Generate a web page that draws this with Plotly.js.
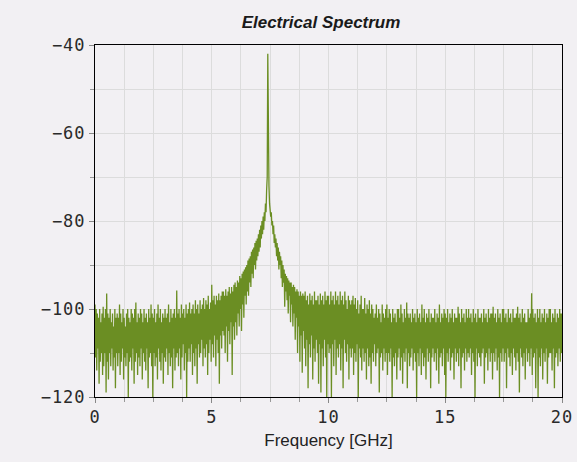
<!DOCTYPE html>
<html>
<head>
<meta charset="utf-8">
<script src="https://cdn.plot.ly/plotly-3.0.1.min.js"></script>
<style>
html,body{margin:0;padding:0;background:#f2f0f3;}
#chart{width:577px;height:462px;}
.xtick text, .ytick text{letter-spacing:1px;}
</style>
</head>
<body>
<div id="chart"></div>
<script>
// Frequency sampling (GHz)
const freqStart = 0;
const freqStep = 0.025;
// Power spectrum (dBm), one value per frequency sample (20 samples per 0.5 GHz row)
const powerDbm = [
 -99,-111,-100,-114,-101,-109,-102,-117,-100,-112,-103,-110,-101,-115,-99.5,-113,-102,-110,-100,-119,
 -96.5,-112,-101,-116,-102,-110,-100,-113,-103,-109,-101,-114,-104,-111,-100,-118,-102,-110,-101,-113,
 -102,-110,-99,-115,-101,-112,-103,-109,-100,-116,-102,-111,-104,-113,-101,-110,-100,-120,-102,-112,
 -103,-111,-100,-114,-101,-109,-102,-117,-100,-112,-98.5,-110,-103,-115,-101,-111,-102,-113,-100,-109,
 -101,-116,-103,-110,-100,-112,-102,-114,-101,-109,-103,-118,-100,-111,-102,-110,-99,-113,-101,-120,
 -102,-110,-100,-113,-103,-111,-101,-116,-99,-109,-102,-112,-100,-114,-103,-110,-101,-117,-102,-111,
 -100,-112,-102,-109,-101,-115,-99,-110,-103,-113,-100,-111,-102,-118,-101,-109,-100,-114,-102,-111,
 -95.8,-110,-101,-113,-100,-109,-102,-116,-99,-111,-101,-108,-100,-114,-102,-110,-99,-120,-101,-112,
 -100,-109,-98.5,-112,-101,-108,-100,-115,-99,-110,-101,-113,-98,-109,-100,-117,-99,-108,-101,-111,
 -98,-110,-100,-107,-99,-113,-97.5,-109,-100,-111,-98,-108,-99,-115,-97,-110,-100,-107,-98.5,-112,
 -94.5,-108,-98,-111,-97,-106,-99,-113,-97,-107,-98,-110,-96.5,-117,-98,-106,-97,-109,-96,-105,
 -96,-106,-97,-110,-95.5,-104,-97,-112,-96,-105,-95,-108,-96.5,-103,-95,-115,-96,-104,-94.5,-107,
 -94,-103,-95,-106,-93.5,-101,-94,-104,-92.5,-100,-93,-105,-92,-99,-91.5,-102,-91,-97,-90.5,-99,
 -90,-96,-89,-97,-88.5,-94,-88,-95,-87,-92,-86.5,-93,-86,-90,-85,-91,-84.5,-89,-84,-88,
 -83,-87,-82,-86,-81,-84,-80,-83,-79,-82,-78,-80,-76,-78,-73,-70,-42,-68,-72,-76,
 -77,-79,-78,-81,-80,-83,-81,-85,-83,-86,-84,-88,-85,-89,-86,-91,-87,-90,-88,-93,
 -89,-95,-90,-94,-91,-99.5,-92,-96,-92.5,-98,-93,-101,-93.5,-97,-94,-103,-94,-99,-95,-104,
 -94.5,-101,-95,-107,-96,-102,-95.5,-110,-96,-104,-97,-112,-96,-106,-97,-114.5,-96.5,-105,-97,-109,
 -96,-113,-98,-107,-97,-118,-99,-108,-96.5,-111,-98,-106,-97,-116,-99,-109,-96,-112,-98,-107,
 -98,-110,-97,-117,-99,-108,-96.5,-119,-98,-109,-97,-113,-99,-107,-96,-111,-98,-120,-97,-108,
 -97,-110,-99,-109,-96,-120,-98,-108,-97,-113,-99,-107,-96,-115,-98,-109,-97,-111,-99,-108,
 -96,-114,-98,-109,-97,-118,-99,-107,-96,-110,-98,-112,-100,-108,-97,-116,-98,-109,-99,-111,
 -98,-109,-97,-115,-99,-110,-97.5,-112,-100,-108,-98,-120,-101,-109,-99,-111,-97,-114,-100,-109,
 -100,-112,-97.5,-110,-101,-116,-99,-109,-100,-113,-98,-111,-101,-117,-99,-110,-100,-112,-102,-108,
 -101,-113,-99,-110,-102,-109,-100,-119,-101,-111,-103,-110,-99,-114,-101,-109,-102,-112,-100,-110,
 -99,-115,-102,-110,-100,-112,-101,-109,-103,-120,-100,-111,-102,-113,-101,-110,-103,-116,-100,-111,
 -100,-109,-102,-114,-99,-111,-101,-117,-103,-110,-100,-112,-102,-109,-98.5,-118,-101,-110,-102,-113,
 -101,-111,-103,-109,-100,-114,-102,-110,-101,-112,-103,-120,-100,-110,-102,-113,-101,-109,-103,-115,
 -99,-110,-102,-113,-100,-111,-103,-116,-101,-109,-102,-112,-100,-110,-103,-118,-101,-111,-102,-109,
 -102,-112,-100,-110,-103,-114,-101,-109,-102,-117,-99,-111,-103,-110,-101,-113,-102,-109,-100,-115,
 -101,-120,-102,-110,-100,-112,-103,-109,-101,-114,-102,-111,-100,-110,-103,-116,-101,-109,-102,-112,
 -102,-110,-99.5,-113,-101,-109,-103,-118,-100,-111,-102,-110,-101,-114,-103,-109,-100,-112,-102,-110,
 -100,-111,-102,-109,-101,-115,-103,-110,-100,-112,-102,-120,-101,-109,-103,-113,-100,-110,-102,-111,
 -102,-113,-101,-110,-103,-109,-100,-117,-102,-111,-101,-110,-103,-114,-100,-109,-102,-112,-101,-110,
 -101,-116,-99.5,-110,-102,-112,-101,-109,-103,-114,-100,-111,-102,-120,-101,-110,-103,-112,-100,-109,
 -100,-112,-102,-110,-101,-118,-103,-109,-100,-111,-102,-113,-101,-110,-103,-115,-100,-109,-102,-111,
 -102,-114,-101,-110,-99.5,-112,-102,-119,-101,-109,-103,-111,-100,-113,-102,-110,-101,-116,-103,-109,
 -103,-112,-100,-110,-102,-113,-101,-109,-96.4,-115,-100,-111,-102,-110,-101,-118,-103,-109,-100,-120,
 -102,-111,-100,-113,-103,-109,-101,-116,-102,-110,-100,-112,-103,-109,-101,-117,-102,-111,-100,-110,
 -100,-110,-103,-114,-101,-109,-102,-118,-100,-111,-103,-110,-101,-113,-102,-109,-100,-112,-101,-110,
 -101
];
const xTickVals = [0, 5, 10, 15, 20];
const yTickVals = [-120, -100, -80, -60, -40];
const yTickText = ['\u2212120', '\u2212100', '\u221280', '\u221260', '\u221240'];

const freqGHz = powerDbm.map((_, i) => +(freqStart + i * freqStep).toFixed(4));

const tickFont = {family: 'DejaVu Sans Mono, monospace', size: 17, color: '#2a2a2a'};

const trace = {
  x: freqGHz,
  y: powerDbm,
  type: 'scatter',
  mode: 'lines',
  line: {color: '#6b8e23', width: 1.3},
  hoverinfo: 'skip'
};

const layout = {
  width: 577,
  height: 462,
  paper_bgcolor: '#f2f0f3',
  plot_bgcolor: '#f2f0f3',
  margin: {l: 95, r: 15, t: 45, b: 65},
  showlegend: false,
  title: {
    text: '<b><i>Electrical Spectrum</i></b>',
    font: {family: 'Liberation Sans, Arial, sans-serif', size: 17, color: '#1a1a1a'},
    x: 321 / 577, xref: 'container', xanchor: 'center',
    y: 1 - 22 / 462, yref: 'container', yanchor: 'middle'
  },
  xaxis: {
    range: [0, 20],
    tickvals: xTickVals,
    ticktext: xTickVals.map(String),
    tickfont: tickFont,
    ticks: 'outside', ticklen: 5, tickcolor: '#888',
    showgrid: true, gridcolor: '#dcdcdc', gridwidth: 1,
    minor: {dtick: 1.25, showgrid: true, gridcolor: '#dcdcdc', ticks: 'outside', ticklen: 4, tickcolor: '#999'},
    showline: true, linecolor: '#000', linewidth: 1, mirror: true,
    zeroline: false,
    title: {text: 'Frequency [GHz]', font: {family: 'Liberation Sans, Arial, sans-serif', size: 17, color: '#222'}, standoff: 7}
  },
  yaxis: {
    range: [-120, -40],
    tickvals: yTickVals,
    ticktext: yTickText,
    tickfont: tickFont,
    ticks: 'outside', ticklen: 5, tickcolor: '#888',
    showgrid: true, gridcolor: '#dcdcdc', gridwidth: 1,
    minor: {dtick: 10, showgrid: true, gridcolor: '#dcdcdc', ticks: 'outside', ticklen: 4, tickcolor: '#999'},
    showline: true, linecolor: '#000', linewidth: 1, mirror: true,
    zeroline: false
  }
};

Plotly.newPlot('chart', [trace], layout, {staticPlot: true, displayModeBar: false});
</script>
</body>
</html>
